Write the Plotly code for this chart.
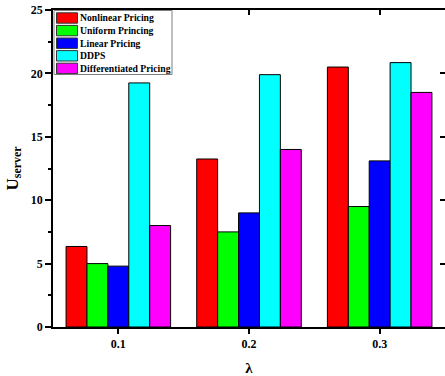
import plotly.graph_objects as go

categories = ["0.1", "0.2", "0.3"]
series_names = ["Nonlinear Pricing", "Uniform Princing", "Linear Pricing", "DDPS", "Differentiated Pricing"]
nonlinear = [6.35, 13.25, 20.5]
uniform = [5.0, 7.5, 9.5]
linear = [4.8, 9.0, 13.1]
ddps = [19.25, 19.9, 20.85]
differentiated = [8.0, 14.0, 18.5]
colors = ["#FF0000", "#00FF00", "#0000FF", "#00FFFF", "#FF00FF"]
y_ticks = [0, 5, 10, 15, 20, 25]

FONT = "Liberation Serif, Times New Roman, serif"

W, H = 445, 376
ML, MR, MT, MB = 53, 0, 10, 49
PW, PH = W - ML - MR, H - MT - MB


def px(x):
    return (x - ML) / PW


def py(y):
    return (H - MB - y) / PH


fig = go.Figure()
for name, vals, col in zip(series_names, [nonlinear, uniform, linear, ddps, differentiated], colors):
    fig.add_trace(go.Bar(x=categories, y=vals, name=name, showlegend=False,
                         marker=dict(color=col, line=dict(color="black", width=1))))

# invisible trace for top/right mirror axes
fig.add_trace(go.Scatter(x=categories, y=[0, 0, 0], xaxis="x2", yaxis="y2", mode="none",
                         showlegend=False, hoverinfo="skip"))

# hand-drawn compact legend (box, swatches, labels)
shapes = [dict(type="rect", xref="paper", yref="paper", x0=px(54), x1=px(172), y0=py(74.5), y1=py(10.5),
               line=dict(color="#808080", width=1), fillcolor="white", layer="above")]
annotations = []
row0, step = 18.0, 12.6
for i, (name, col) in enumerate(zip(series_names, colors)):
    cy = row0 + i * step
    shapes.append(dict(type="rect", xref="paper", yref="paper", x0=px(56.5), x1=px(77.5),
                       y0=py(cy + 5.2), y1=py(cy - 5.2), line=dict(color="#333333", width=1),
                       fillcolor=col, layer="above"))
    annotations.append(dict(text=name, xref="paper", yref="paper", x=px(77.5), y=py(cy),
                            xanchor="left", yanchor="middle", showarrow=False,
                            font=dict(family=FONT, size=9.7, weight="bold", color="black")))

fig.update_layout(
    width=W, height=H,
    margin=dict(l=ML, r=MR, t=MT, b=MB),
    plot_bgcolor="white", paper_bgcolor="white",
    barmode="group", bargap=0.2, bargroupgap=0,
    font=dict(family=FONT, color="black", size=12, weight="bold"),
    showlegend=False,
    shapes=shapes, annotations=annotations,
    xaxis=dict(type="category", range=[-0.5, 2.5], showline=True, linecolor="black", linewidth=1.5,
               ticks="outside", ticklen=5, tickwidth=1.5, tickcolor="black",
               tickfont=dict(family=FONT, size=12, weight="bold"),
               title=dict(text="λ", font=dict(family=FONT, size=15, weight="bold"), standoff=14)),
    yaxis=dict(range=[0, 25], tickvals=y_ticks, showline=True, linecolor="black", linewidth=1.5,
               ticks="outside", ticklen=6, tickwidth=1.5, tickcolor="black", showgrid=False, zeroline=False,
               minor=dict(ticks="outside", ticklen=3, tickwidth=1.5, tickcolor="black", dtick=2.5, showgrid=False),
               tickfont=dict(family=FONT, size=12, weight="bold"),
               title=dict(text="U<sub>server</sub>", font=dict(family=FONT, size=17, weight="bold"), standoff=8)),
    xaxis2=dict(type="category", overlaying="x", side="top", matches="x", range=[-0.5, 2.5],
                showline=True, linecolor="black", linewidth=1.5, ticks="inside", ticklen=5, tickwidth=1.5,
                tickcolor="black", showticklabels=False, showgrid=False),
    yaxis2=dict(overlaying="y", side="right", range=[0, 25], tickvals=y_ticks, showline=True,
                linecolor="black", linewidth=1.5, ticks="inside", ticklen=5, tickwidth=1.5,
                tickcolor="black", showticklabels=False, showgrid=False, zeroline=False),
)

fig.write_html("out.html", config={"displayModeBar": False},
               post_script="document.body.style.margin='0';document.body.style.overflow='hidden';")
